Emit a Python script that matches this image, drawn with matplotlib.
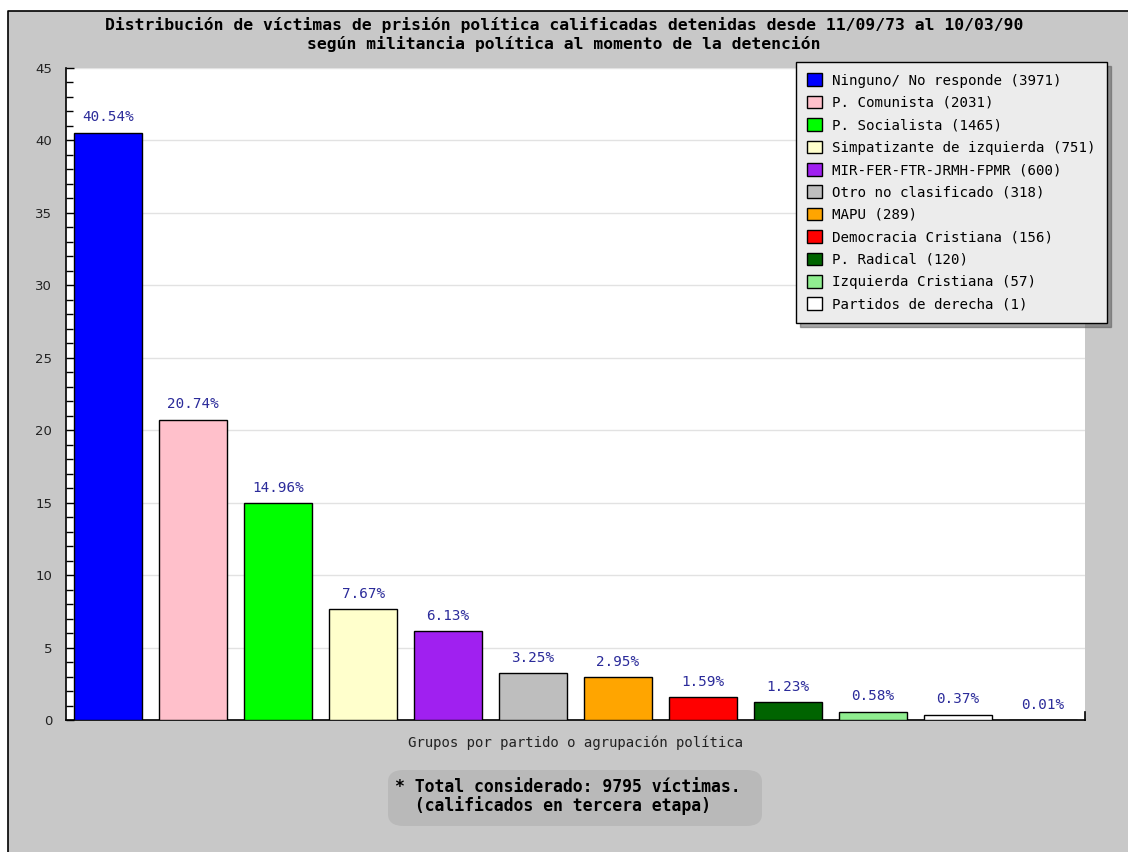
import matplotlib
matplotlib.use("Agg")
import matplotlib.pyplot as plt
from matplotlib.patches import Patch, Rectangle, FancyBboxPatch
from matplotlib.lines import Line2D

W, H = 1128, 852

title_lines = ["Distribución de víctimas de prisión política calificadas detenidas desde 11/09/73 al 10/03/90",
               "según militancia política al momento de la detención"]
legend_labels = ["Ninguno/ No responde (3971)", "P. Comunista (2031)", "P. Socialista (1465)",
                 "Simpatizante de izquierda (751)", "MIR-FER-FTR-JRMH-FPMR (600)",
                 "Otro no clasificado (318)", "MAPU (289)", "Democracia Cristiana (156)",
                 "P. Radical (120)", "Izquierda Cristiana (57)", "Partidos de derecha (1)"]
legend_colors = ["#0000ff", "#ffc0cb", "#00ff00", "#ffffcc", "#a020f0", "#bebebe",
                 "#ffa500", "#ff0000", "#006400", "#90ee90", "#ffffff"]
percentages = [40.54, 20.74, 14.96, 7.67, 6.13, 3.25, 2.95, 1.59, 1.23, 0.58, 0.37, 0.01]
bar_colors = ["#0000ff", "#ffc0cb", "#00ff00", "#ffffcc", "#a020f0", "#bebebe",
              "#ffa500", "#ff0000", "#006400", "#90ee90", "#ffffff", "#ffffff"]
yticks = [0, 5, 10, 15, 20, 25, 30, 35, 40, 45]
xlabel = "Grupos por partido o agrupación política"
note_lines = ["* Total considerado: 9795 víctimas.", "  (calificados en tercera etapa)"]

BG = "#c8c8c8"
MONO = "DejaVu Sans Mono"
LBL = "#2b2b9a"

fig = plt.figure(figsize=(W / 100, H / 100), dpi=100)
fig.patch.set_facecolor("white")

def fx(x): return x / W
def fy(y): return 1 - y / H

# grey panel with black left/top border
fig.add_artist(Rectangle((fx(8), 0), 1 - fx(8), fy(11), transform=fig.transFigure,
                         facecolor=BG, edgecolor="none", zorder=0))
fig.add_artist(Line2D([fx(8), fx(8), 1], [0, fy(11), fy(11)], transform=fig.transFigure,
                      color="black", lw=1.2, zorder=1))

ax = fig.add_axes([fx(66), fy(720), fx(1085) - fx(66), fy(68) - fy(720)])
ax.set_facecolor("white")
x = list(range(len(percentages)))
ax.bar(x, percentages, width=0.8, color=bar_colors, edgecolor="black", linewidth=1.0, zorder=3)
for xi, p in zip(x, percentages):
    ax.annotate(f"{p:.2f}%", (xi, p), xytext=(0, 6), textcoords="offset points",
                ha="center", va="bottom", fontsize=10.3, family=MONO, color=LBL)
ax.set_xlim(-0.5, len(percentages) - 0.5)
ax.set_ylim(0, 45)
ax.set_yticks(yticks)
ax.set_yticks(range(0, 46), minor=True)
ax.tick_params(axis="y", which="major", direction="in", length=6, width=1, labelsize=9.5,
               labelcolor="#222222", pad=10)
ax.tick_params(axis="y", which="minor", direction="in", length=5, width=1)
ax.set_xticks([])
ax.yaxis.grid(True, color="#e2e2e2", lw=1, zorder=0)
ax.set_axisbelow(True)
for s in ["top", "right"]:
    ax.spines[s].set_visible(False)
ax.spines["left"].set_linewidth(1.2)
ax.spines["bottom"].set_linewidth(1.2)
ax.plot([1, 1], [0, 0.012], transform=ax.transAxes, color="black", lw=1.2, clip_on=False)

fig.text(0.5, fy(25), title_lines[0], ha="center", va="center", family=MONO,
         fontweight="bold", fontsize=11.8, color="black")
fig.text(0.5, fy(44), title_lines[1], ha="center", va="center", family=MONO,
         fontweight="bold", fontsize=11.8, color="black")

fig.text(fx(575), fy(743), xlabel, ha="center", va="center", family=MONO, fontsize=10.1,
         color="#222222")

fig.add_artist(FancyBboxPatch((fx(388), fy(826)), fx(762) - fx(388), fy(770) - fy(826),
                              boxstyle="round,pad=0,rounding_size=0.014",
                              transform=fig.transFigure, facecolor="#b9b9b9",
                              edgecolor="none", zorder=1))
fig.text(fx(395), fy(787), note_lines[0], ha="left", va="center", family=MONO,
         fontweight="bold", fontsize=11.9, color="black", zorder=2)
fig.text(fx(395), fy(806), note_lines[1], ha="left", va="center", family=MONO,
         fontweight="bold", fontsize=11.9, color="black", zorder=2)

handles = [Patch(facecolor=c, edgecolor="black", linewidth=1) for c in legend_colors]
leg = fig.legend(handles, legend_labels, loc="upper right",
                 bbox_to_anchor=(fx(1107), fy(62)), prop={"family": MONO, "size": 10.2},
                 frameon=True, fancybox=False,
                 shadow={"shade": 0.65, "ox": 3, "oy": -3}, facecolor="#ececec",
                 edgecolor="black", framealpha=1, handlelength=1.0, handleheight=1.0,
                 handletextpad=0.75, labelspacing=0.58, borderpad=0.8, borderaxespad=0)
leg.get_frame().set_linewidth(1.0)

fig.savefig("out.png", dpi=100, facecolor=fig.get_facecolor())
